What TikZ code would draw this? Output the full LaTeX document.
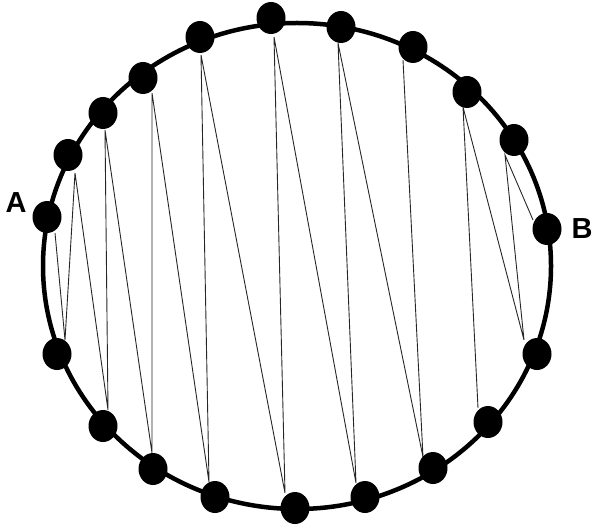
\documentclass[tikz,border=0pt]{standalone}
\usepackage{fontspec}
\setmainfont{Liberation Sans}
\usetikzlibrary{shapes.geometric}
\begin{document}
\begin{tikzpicture}[x=1pt,y=-1pt,
  dot/.style={ellipse,fill=black,draw=none,minimum width=29pt,minimum height=32pt,inner sep=0pt},
  chord/.style={draw=black!85,line width=0.9pt},
  rim/.style={draw=black,line width=4.5pt},
  lbl/.style={font=\bfseries\fontsize{29}{30}\selectfont,inner sep=0pt}]
\useasboundingbox (0,0) rectangle (593,529);
% ports where the chords meet the dots
\coordinate (pA) at (55,233);
\coordinate (pT2) at (75,173);
\coordinate (pT3) at (105,130);
\coordinate (pT4) at (152,93);
\coordinate (pT5) at (201,55);
\coordinate (pT6) at (274,37);
\coordinate (pT7) at (338,43);
\coordinate (pT8) at (403,60);
\coordinate (pT9) at (463,107);
\coordinate (pT10) at (505,155);
\coordinate (pB) at (533,220);
\coordinate (pB1) at (65,340);
\coordinate (pB2) at (108,410);
\coordinate (pB3) at (152,453);
\coordinate (pB4) at (209,482);
\coordinate (pB5) at (285,493);
\coordinate (pB6) at (356,483);
\coordinate (pB7) at (423,457);
\coordinate (pB8) at (478,408);
\coordinate (pB9) at (524,340);
% chords
\draw[chord] (pA) -- (pB1) -- (pT2) -- (pB2) -- (pT3) -- (pB3) -- (pT4) -- (pB4)
  -- (pT5) -- (pB5) -- (pT6) -- (pB6) -- (pT7) -- (pB7) -- (pT8);
\draw[chord] (pB8) -- (pT9) -- (pB9) -- (pT10) -- (pB);
% rim
\draw[rim] (297,266) ellipse [x radius=254, y radius=243];
% dots
\node[dot] (A) at (47,217) {};
\node[dot] (T2) at (68,155) {};
\node[dot] (T3) at (103,113) {};
\node[dot] (T4) at (143,78) {};
\node[dot] (T5) at (200,37) {};
\node[dot] (T6) at (271,18) {};
\node[dot] (T7) at (341,27) {};
\node[dot] (T8) at (413,47) {};
\node[dot] (T9) at (467,92) {};
\node[dot] (T10) at (514,140) {};
\node[dot] (B) at (547,229) {};
\node[dot] (B1) at (57,354) {};
\node[dot] (B2) at (103,426) {};
\node[dot] (B3) at (153,469) {};
\node[dot] (B4) at (215,497) {};
\node[dot] (B5) at (295,508) {};
\node[dot] (B6) at (365,497) {};
\node[dot] (B7) at (433,468) {};
\node[dot] (B8) at (488,422) {};
\node[dot] (B9) at (537,354) {};
% labels
\node[lbl] (la) at (16,203) {A};
\node[lbl] (lb) at (582,229) {B};
\end{tikzpicture}
\end{document}
